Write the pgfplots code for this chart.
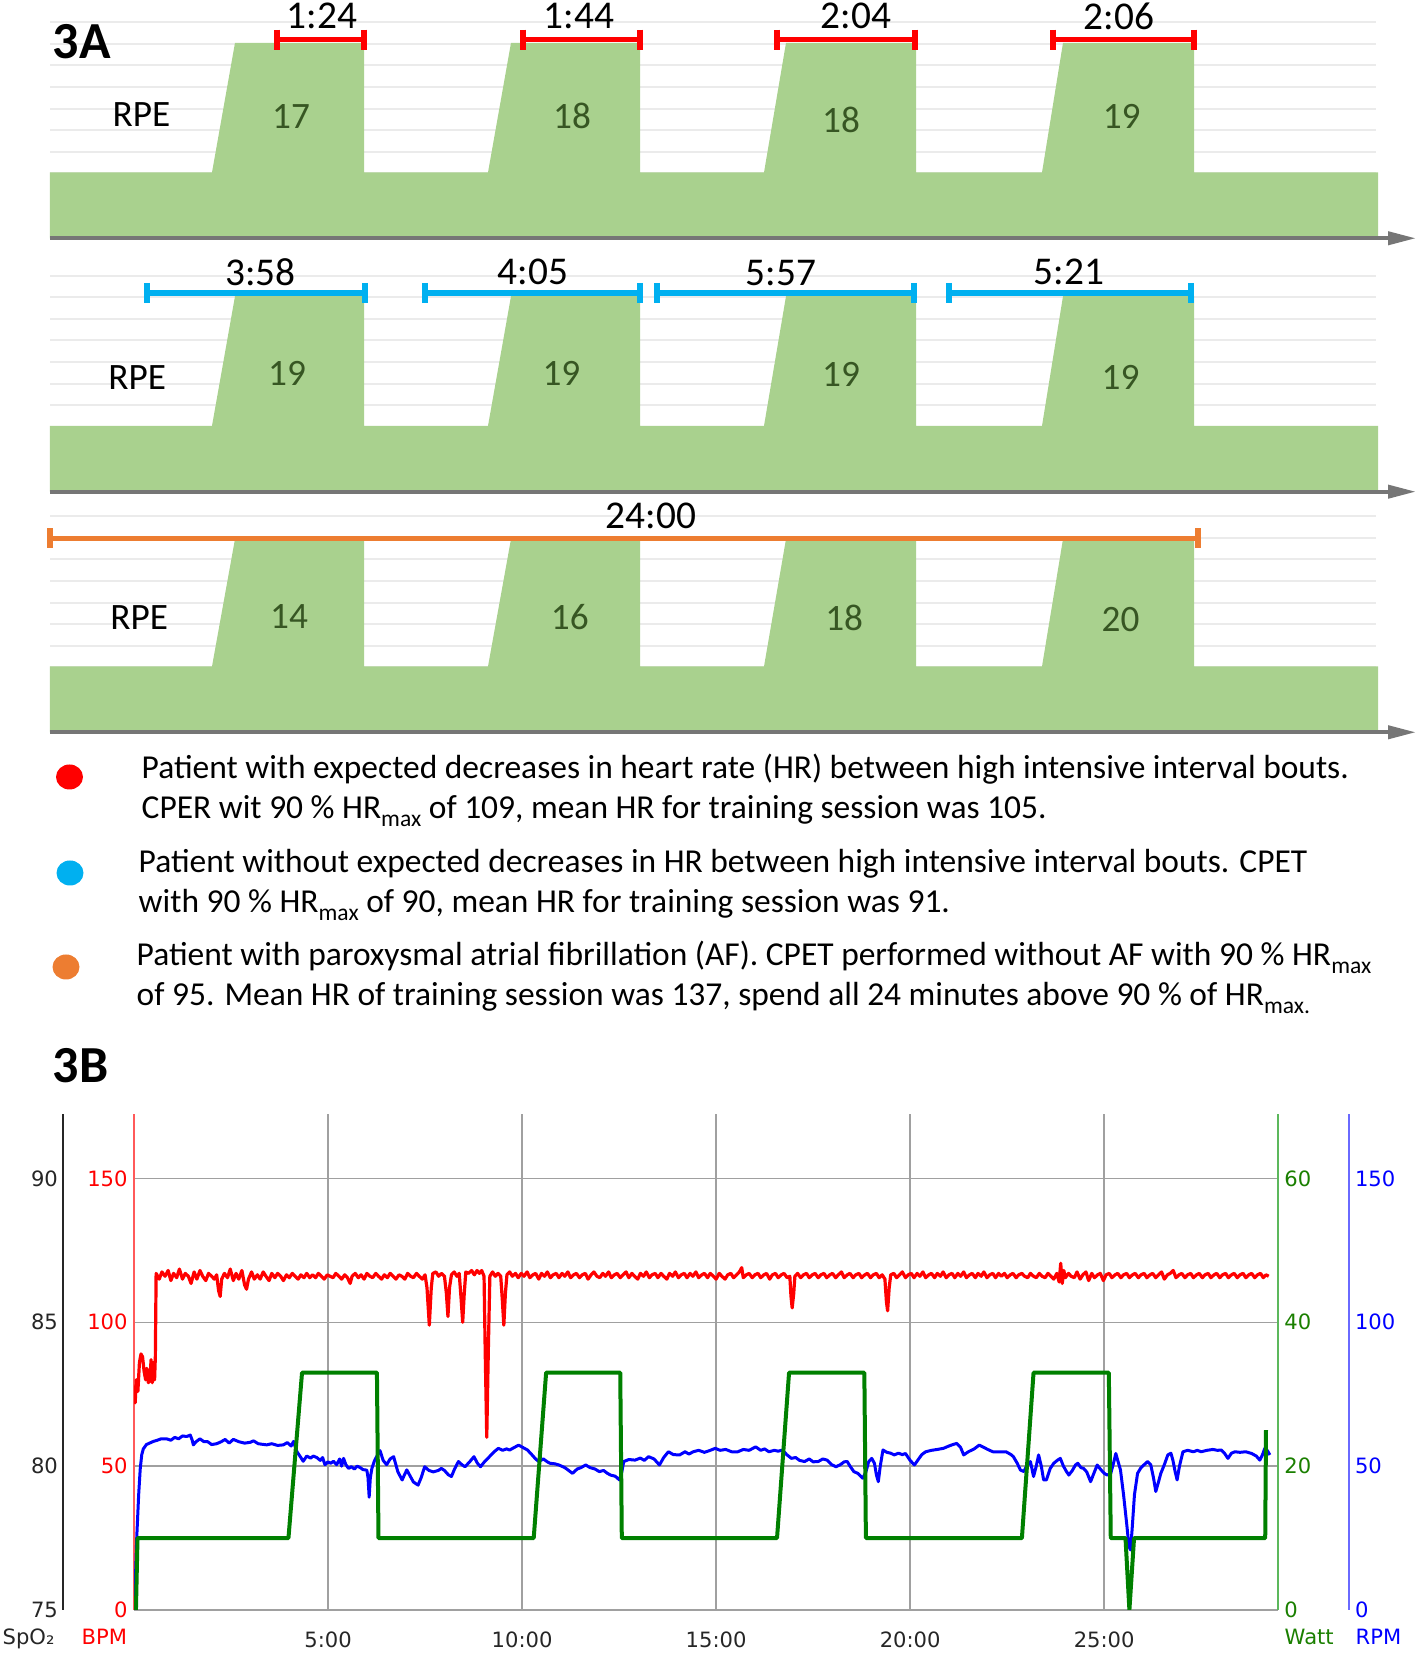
\documentclass[border=0pt]{standalone}
\usepackage{fontspec}
\setmainfont{Carlito}
\newfontfamily\vfont{DejaVu Sans}
\usepackage{pgfplots}
\pgfplotsset{compat=1.18}
\usetikzlibrary{arrows.meta}
\definecolor{rpegreen}{HTML}{A9D18E}
\definecolor{rpedark}{HTML}{375623}
\definecolor{barred}{HTML}{FF0000}
\definecolor{barblue}{HTML}{00B0F0}
\definecolor{barorange}{HTML}{ED7D31}
\definecolor{arrowgray}{HTML}{767676}
\definecolor{faintgrid}{HTML}{EBEBEB}
\definecolor{gridgray}{HTML}{A0A0A0}
\definecolor{bpmred}{HTML}{FF0000}
\definecolor{bpmaxis}{HTML}{FF5A5A}
\definecolor{wattgreen}{HTML}{008000}
\definecolor{wattaxis}{HTML}{5CB85C}
\definecolor{watttext}{HTML}{1A7F00}
\definecolor{rpmblue}{HTML}{0000FF}
\definecolor{rpmaxis}{HTML}{6A6AFF}
\newcommand{\lbl}{\fontsize{11.2}{13}\selectfont}
\newcommand{\rpe}{\fontsize{10.6}{12}\selectfont}
\newcommand{\leg}{\fontsize{9.52}{11}\selectfont}
\newcommand{\sub}[1]{\raisebox{-0.8mm}{\fontsize{6.7}{7}\selectfont #1}}
\newcommand{\tickf}{\fontsize{6}{7}\selectfont\vfont}
\pgfplotsset{
  rpepanel/.style={scale only axis, anchor=south west, width=132.6mm, height=21.6mm,
    xmin=50, xmax=1376, ymin=0, ymax=10, clip=false,
    axis line style={draw=none}, xtick=\empty, ytick={1,...,10}, yticklabels={},
    major tick length=0pt, ymajorgrids, major grid style={draw=faintgrid, line width=0.2mm}},
  durbar/.style={line width=0.55mm, mark=|, mark size=1mm, mark options={line width=0.6mm, solid}},
  base3b/.style={scale only axis, anchor=south west, width=114.4mm, height=49.6mm,
    xmin=0, xmax=29.48, major tick length=0pt},
}
\tikzset{axarrow/.style={line width=0.4mm, draw=arrowgray, -{Triangle[length=2.8mm,width=1.3mm]}},
  txt/.style={inner sep=0pt}}
\begin{document}
\begin{tikzpicture}
\useasboundingbox (0,0) rectangle (141.6mm,165.5mm);

% ---------------- 3A panel 1 ----------------
\begin{axis}[rpepanel, at={(5mm,141.67mm)}]
\addplot[fill=rpegreen, draw=none] coordinates {(50,3.05) (212,3.05) (235,9.05) (364,9.05) (364,3.05) (488,3.05) (511,9.05) (640,9.05) (640,3.05) (764,3.05) (786,9.05) (916,9.05) (916,3.05) (1042,3.05) (1063,9.05) (1194,9.05) (1194,3.05) (1378,3.05)} \closedcycle;
\addplot[durbar, color=barred] coordinates {(277,9.2) (364,9.2)};
\addplot[durbar, color=barred] coordinates {(523,9.2) (640,9.2)};
\addplot[durbar, color=barred] coordinates {(777,9.2) (915,9.2)};
\addplot[durbar, color=barred] coordinates {(1053,9.2) (1194,9.2)};
\draw[axarrow] (axis cs:50,0) -- (axis cs:1416,0);
\node[txt, font=\lbl] at (axis cs:322,10.28) {1:24};
\node[txt, font=\lbl] at (axis cs:579,10.28) {1:44};
\node[txt, font=\lbl] at (axis cs:856,10.28) {2:04};
\node[txt, font=\lbl] at (axis cs:1119,10.28) {2:06};
\node[txt, font=\rpe] at (axis cs:141.4,5.75) {RPE};
\node[txt, font=\rpe, text=rpedark] at (axis cs:291,5.65) {17};
\node[txt, font=\rpe, text=rpedark] at (axis cs:572,5.65) {18};
\node[txt, font=\rpe, text=rpedark] at (axis cs:841,5.46) {18};
\node[txt, font=\rpe, text=rpedark] at (axis cs:1121.7,5.65) {19};
\end{axis}

% ---------------- 3A panel 2 ----------------
\begin{axis}[rpepanel, at={(5mm,116.33mm)}]
\addplot[fill=rpegreen, draw=none] coordinates {(50,3.05) (212,3.05) (235,9.05) (364,9.05) (364,3.05) (488,3.05) (511,9.05) (640,9.05) (640,3.05) (764,3.05) (786,9.05) (916,9.05) (916,3.05) (1042,3.05) (1063,9.05) (1194,9.05) (1194,3.05) (1378,3.05)} \closedcycle;
\addplot[durbar, color=barblue] coordinates {(147,9.2) (365,9.2)};
\addplot[durbar, color=barblue] coordinates {(425,9.2) (640,9.2)};
\addplot[durbar, color=barblue] coordinates {(657,9.2) (914,9.2)};
\addplot[durbar, color=barblue] coordinates {(949,9.2) (1191,9.2)};
\draw[axarrow] (axis cs:50,0) -- (axis cs:1416,0);
\node[txt, font=\lbl] at (axis cs:260.6,10.16) {3:58};
\node[txt, font=\lbl] at (axis cs:533,10.16) {4:05};
\node[txt, font=\lbl] at (axis cs:781,10.12) {5:57};
\node[txt, font=\lbl] at (axis cs:1069,10.16) {5:21};
\node[txt, font=\rpe] at (axis cs:137.2,5.27) {RPE};
\node[txt, font=\rpe, text=rpedark] at (axis cs:287,5.47) {19};
\node[txt, font=\rpe, text=rpedark] at (axis cs:561.4,5.47) {19};
\node[txt, font=\rpe, text=rpedark] at (axis cs:841,5.42) {19};
\node[txt, font=\rpe, text=rpedark] at (axis cs:1120.6,5.27) {19};
\end{axis}

% ---------------- 3A panel 3 ----------------
\begin{axis}[rpepanel, at={(5mm,92.27mm)}]
\addplot[fill=rpegreen, draw=none] coordinates {(50,3.05) (212,3.05) (235,8.95) (364,8.95) (364,3.05) (488,3.05) (511,8.95) (640,8.95) (640,3.05) (764,3.05) (786,8.95) (916,8.95) (916,3.05) (1042,3.05) (1063,8.95) (1194,8.95) (1194,3.05) (1378,3.05)} \closedcycle;
\addplot[durbar, color=barorange] coordinates {(50,8.98) (1198,8.98)};
\draw[axarrow] (axis cs:50,0) -- (axis cs:1416,0);
\node[txt, font=\lbl] at (axis cs:651,10.01) {24:00};
\node[txt, font=\rpe] at (axis cs:139.3,5.32) {RPE};
\node[txt, font=\rpe, text=rpedark] at (axis cs:289.1,5.38) {14};
\node[txt, font=\rpe, text=rpedark] at (axis cs:569.8,5.32) {16};
\node[txt, font=\rpe, text=rpedark] at (axis cs:844.2,5.28) {18};
\node[txt, font=\rpe, text=rpedark] at (axis cs:1120.6,5.23) {20};
\end{axis}

% ---------------- labels and legend ----------------
\node[txt, anchor=base west, font=\fontsize{14.8}{16}\selectfont\bfseries] at (5.2mm,159.6mm) {3A};
\node[txt, anchor=base west, font=\fontsize{14.8}{16}\selectfont\bfseries] at (5.2mm,57.24mm) {3B};
\fill[barred] (6.95mm,87.8mm) ellipse [x radius=1.35mm, y radius=1.25mm];
\fill[barblue] (7mm,78.2mm) ellipse [x radius=1.35mm, y radius=1.25mm];
\fill[barorange] (6.6mm,68.8mm) ellipse [x radius=1.35mm, y radius=1.25mm];
\node[txt, anchor=base west, font=\leg] at (14.1mm,87.63mm) {Patient with expected decreases in heart rate (HR) between high intensive interval bouts.};
\node[txt, anchor=base west, font=\leg] at (14.1mm,83.65mm) {CPER wit 90 \% HR\sub{max} of 109, mean HR for training session was 105.};
\node[txt, anchor=base west, font=\leg] at (13.8mm,78.23mm) {Patient without expected decreases in HR between high intensive interval bouts. CPET};
\node[txt, anchor=base west, font=\leg] at (13.8mm,74.25mm) {with 90 \% HR\sub{max} of 90, mean HR for training session was 91.};
\node[txt, anchor=base west, font=\leg] at (13.6mm,68.95mm) {Patient with paroxysmal atrial fibrillation (AF). CPET performed without AF with 90 \% HR\sub{max}};
\node[txt, anchor=base west, font=\leg] at (13.6mm,64.95mm) {of 95. Mean HR of training session was 137, spend all 24 minutes above 90 \% of HR\sub{max.}};

% ---------------- 3B ----------------
% SpO2 axis
\begin{axis}[base3b, at={(6.33mm,4.5mm)}, ymin=75, ymax=92.24,
  axis y line*=left, axis x line=none, xtick=\empty,
  y axis line style={draw=black!85, line width=0.2mm, -},
  ytick={75,80,85,90}, yticklabels={75,80,85,90},
  yticklabel style={font=\tickf, text=black!85, xshift=0.7mm}]
\end{axis}
% RPM axis (same scale as BPM)
\begin{axis}[base3b, at={(20.46mm,4.5mm)}, ymin=0, ymax=172.4,
  axis y line*=right, axis x line=none, xtick=\empty,
  y axis line style={draw=rpmaxis, line width=0.2mm, -},
  ytick={0,50,100,150}, yticklabels={0,50,100,150},
  yticklabel style={font=\tickf, text=rpmblue, xshift=-0.6mm}]
\end{axis}
% main BPM axis with HR (red) and RPM (blue)
\begin{axis}[base3b, at={(13.4mm,4.5mm)}, ymin=0, ymax=172.4,
  axis y line*=left, axis x line*=bottom,
  x axis line style={draw=gridgray, line width=0.15mm, -},
  y axis line style={draw=bpmaxis, line width=0.2mm, -},
  ytick={0,50,100,150}, yticklabels={0,50,100,150},
  yticklabel style={font=\tickf, text=bpmred, xshift=0.6mm},
  xtick={5,10,15,20,25}, xticklabels={5:00,10:00,15:00,20:00,25:00},
  xticklabel style={font=\tickf, text=black!85, yshift=-0.9mm},
  xmajorgrids, ymajorgrids, major grid style={draw=gridgray, line width=0.15mm}]
\addplot[rpmblue, line width=0.3mm, line join=round] coordinates {
(0.00,0) (0.04,12) (0.07,25) (0.12,40) (0.16,49) (0.20,54) (0.24,56) (0.32,57.5) (0.40,58) (0.50,58.6) (0.60,59) (0.70,59.5) (0.84,59.5) (0.95,59) (1.05,60) (1.15,59.5) (1.25,60.5) (1.36,60.3) (1.45,60.8) (1.50,59) (1.53,57.4) (1.60,58.5) (1.70,59.5) (1.80,58.5) (1.90,58.5) (2.00,57.5) (2.13,57.8) (2.25,58.5) (2.35,59.3) (2.45,58) (2.56,59.3) (2.70,58.5) (2.85,58) (3.00,58.3) (3.08,58.8) (3.20,57.8) (3.30,57.6) (3.42,57.4) (3.55,57.8) (3.70,57.2) (3.85,57.4) (3.95,58.2) (4.05,57) (4.11,58.6) (4.20,55) (4.30,53) (4.36,51.7) (4.45,53.5) (4.55,52.8) (4.62,53.5) (4.71,53) (4.80,52) (4.86,53) (4.92,50.5) (5.00,51.5) (5.07,51) (5.14,51.7) (5.22,50.5) (5.30,52.5) (5.35,50) (5.40,52.7) (5.46,50.5) (5.53,49.2) (5.60,49.8) (5.68,49) (5.75,50) (5.83,49.5) (5.90,48.8) (6.00,48.6) (6.03,46) (6.06,39.2) (6.09,46) (6.13,49.2) (6.20,52) (6.28,54) (6.34,55.4) (6.42,52) (6.51,50.5) (6.60,52.5) (6.69,53.3) (6.80,48) (6.91,45.2) (6.97,47) (7.03,48.7) (7.11,46.7) (7.20,44.5) (7.32,43.4) (7.40,46) (7.49,49.8) (7.60,48.5) (7.71,48) (7.84,48.5) (7.92,49.2) (8.00,48.5) (8.10,47) (8.18,46.4) (8.26,49) (8.36,51.6) (8.45,50.5) (8.53,49.8) (8.65,51.5) (8.76,53.3) (8.85,51) (8.93,49.8) (9.03,51.5) (9.16,53.3) (9.28,55) (9.39,56.2) (9.50,55.5) (9.60,56) (9.68,55.6) (9.80,56.5) (9.91,57.3) (10.02,56.5) (10.14,55.6) (10.25,54) (10.35,52.5) (10.43,51.6) (10.55,52.5) (10.65,51.5) (10.72,51) (10.85,50.8) (10.95,50.4) (11.10,49.5) (11.20,48.5) (11.30,47.5) (11.42,49) (11.52,49.5) (11.64,50.4) (11.75,49.5) (11.88,49) (11.99,48.1) (12.10,48.5) (12.20,47.5) (12.28,46.9) (12.40,46.5) (12.51,45.2) (12.57,48) (12.62,51.6) (12.75,52.3) (12.91,52.1) (13.05,52.8) (13.15,52) (13.26,53.3) (13.40,52.5) (13.54,50.4) (13.65,53) (13.77,55) (13.90,54) (14.06,53.9) (14.20,55) (14.30,54.2) (14.41,55) (14.55,55.5) (14.70,54.8) (14.85,55.5) (14.98,56.2) (15.10,55.5) (15.25,55.8) (15.40,55) (15.56,55) (15.70,55.8) (15.85,55.5) (16.02,56.7) (16.15,55.5) (16.25,56) (16.36,55) (16.50,55.5) (16.60,55.2) (16.71,55.6) (16.82,54) (16.94,52.7) (17.05,53) (17.15,52) (17.28,51.6) (17.40,52.5) (17.50,51.5) (17.63,51.6) (17.75,52.5) (17.86,52.1) (17.98,50.5) (18.09,49.8) (18.20,50.5) (18.30,51.5) (18.38,51.6) (18.45,50) (18.55,48.1) (18.65,47.5) (18.78,45.8) (18.86,48) (18.93,51.5) (19.01,52.7) (19.08,51) (19.13,47) (19.18,44.6) (19.23,50) (19.30,55.6) (19.40,54.8) (19.50,54.5) (19.59,53.9) (19.70,54.5) (19.80,54) (19.88,54.4) (20.00,52) (20.11,50.4) (20.22,52.5) (20.30,54) (20.40,55) (20.55,55.5) (20.70,55.8) (20.86,56.2) (21.00,57) (21.10,57.5) (21.20,57.9) (21.30,56.5) (21.38,53.9) (21.50,55) (21.65,56) (21.78,57.3) (21.90,56.5) (22.00,55.8) (22.13,55) (22.30,55) (22.47,55) (22.60,54) (22.66,53.3) (22.76,51) (22.84,48.7) (22.93,48.1) (23.00,50) (23.10,51.6) (23.18,46.4) (23.25,50) (23.31,53.9) (23.38,50) (23.44,45.2) (23.51,45.2) (23.61,49.2) (23.70,51) (23.80,52.1) (23.87,52.7) (23.95,50) (24.03,48.1) (24.09,46.9) (24.18,48.5) (24.26,50.4) (24.32,51) (24.40,49.5) (24.47,49.2) (24.55,48) (24.65,44.6) (24.72,47) (24.82,50.4) (24.90,49) (25.00,47.5) (25.08,46.9) (25.17,47.5) (25.24,51) (25.30,54.4) (25.36,51.5) (25.42,48.7) (25.50,40) (25.58,30) (25.64,22) (25.68,20.9) (25.72,28) (25.78,40) (25.86,47.5) (25.95,49.5) (26.03,50.5) (26.12,51.6) (26.20,50.5) (26.27,46) (26.33,41.2) (26.40,44.5) (26.46,47.5) (26.55,50.5) (26.64,53.9) (26.72,54.5) (26.77,52.1) (26.83,48) (26.88,45.2) (26.94,50) (27.03,55) (27.15,55.5) (27.30,55) (27.40,55.5) (27.50,55) (27.65,55.5) (27.80,55.8) (27.92,55.5) (28.02,55.6) (28.10,54.5) (28.19,52.7) (28.28,54.5) (28.37,55) (28.50,54.8) (28.65,55) (28.80,54.4) (28.92,53.5) (29.01,52.1) (29.08,54) (29.14,56.2) (29.20,55.5) (29.27,53.9)};
\addplot[bpmred, line width=0.32mm, line join=round] coordinates {
(0.00,78) (0.03,72) (0.06,80) (0.10,76) (0.14,86) (0.18,89) (0.22,88) (0.26,83) (0.30,80) (0.33,84) (0.37,79) (0.41,80) (0.44,87) (0.47,79) (0.50,86) (0.53,80) (0.55,88) (0.57,117)
(0.65,115) (0.72,117.5) (0.80,116) (0.88,118) (0.95,114.5) (1.02,117) (1.10,115.5) (1.17,118.5) (1.25,115) (1.32,117) (1.40,116) (1.47,113.5) (1.55,117.5) (1.62,115) (1.70,118) (1.77,116) (1.85,114.5) (1.92,117) (2.00,116) (2.07,115) (2.13,116.5) (2.18,111) (2.22,109) (2.26,115) (2.33,117) (2.41,115.5) (2.48,118.5) (2.56,114.5) (2.63,117) (2.70,115) (2.78,118) (2.85,113) (2.90,111.5) (2.95,115) (3.03,117.5) (3.10,115) (3.18,116.5) (3.25,115) (3.33,117.5) (3.40,116) (3.48,114.5) (3.55,117) (3.63,115.5) (3.70,117) (3.78,116) (3.85,114.5) (3.93,116.5) (4.00,115.5) (4.08,117) (4.15,116) (4.23,115) (4.30,116.5) (4.38,115.5) (4.45,117) (4.53,115.5) (4.60,116.5) (4.68,115.5) (4.75,117) (4.83,116) (4.90,115) (4.98,116.5) (5.05,116) (5.13,115.5) (5.20,117) (5.28,116) (5.35,115) (5.43,116.5) (5.50,115.5) (5.57,113.5) (5.62,116) (5.70,117) (5.78,115.5) (5.85,116.5) (5.93,115) (6.00,117) (6.08,116) (6.15,115.5) (6.23,117) (6.30,116) (6.38,115) (6.45,116.5) (6.53,115.5) (6.60,117) (6.68,116) (6.75,115) (6.83,116.5) (6.90,116) (6.98,115) (7.05,117) (7.13,116) (7.20,115.5) (7.28,117) (7.35,116) (7.43,115) (7.50,116.5) (7.55,112) (7.61,99) (7.66,112) (7.70,117) (7.78,117.5) (7.85,116) (7.92,117) (8.00,116) (8.05,110) (8.09,102) (8.13,112) (8.18,116.5) (8.25,117.5) (8.32,116) (8.38,117) (8.43,108) (8.47,100) (8.51,110) (8.55,117.5) (8.62,117) (8.70,118) (8.77,116.5) (8.84,118) (8.90,117) (8.96,118) (9.02,116) (9.05,90) (9.09,60) (9.13,90) (9.17,116) (9.24,117.5) (9.31,116) (9.38,117) (9.45,116) (9.49,108) (9.53,99) (9.57,110) (9.61,116.5) (9.68,117.5) (9.75,116) (9.83,117) (9.90,115.5) (9.98,117) (10.05,116) (10.13,117.5) (10.20,115.5) (10.28,116.5) (10.35,117) (10.43,115) (10.50,117) (10.58,116) (10.65,117.5) (10.73,115.5) (10.80,116.5) (10.88,117) (10.95,115.5) (11.03,117) (11.10,116) (11.18,117.5) (11.25,115.5) (11.33,116.5) (11.40,117) (11.48,115.5) (11.55,116.5) (11.63,117) (11.70,115) (11.78,116.5) (11.85,117.5) (11.93,116) (12.00,115.5) (12.08,117) (12.15,116) (12.23,117.5) (12.30,115.5) (12.38,116.5) (12.45,117) (12.53,115.5) (12.60,116.5) (12.68,117.5) (12.75,115.5) (12.83,117) (12.90,116) (12.98,115) (13.05,117) (13.13,116) (13.20,117.5) (13.28,115.5) (13.35,116.5) (13.43,117) (13.50,115.5) (13.58,117) (13.65,116) (13.73,115) (13.80,117) (13.88,116) (13.95,117.5) (14.03,115.5) (14.10,116.5) (14.18,117) (14.25,115.5) (14.33,117) (14.40,116) (14.48,117.5) (14.55,115.5) (14.63,116.5) (14.70,117) (14.78,115.5) (14.85,117) (14.93,116) (15.00,115) (15.08,117) (15.15,116) (15.23,115) (15.30,116.5) (15.38,117) (15.45,115.5) (15.53,116.5) (15.60,117.5) (15.66,119) (15.70,115.5) (15.78,116.5) (15.85,117) (15.93,115.5) (16.00,116.5) (16.08,117) (16.15,115.5) (16.23,116.5) (16.30,117) (16.38,115) (16.45,116.5) (16.53,117) (16.60,115.5) (16.68,116.5) (16.75,117) (16.83,115.5) (16.90,116) (16.93,109) (16.96,105) (17.00,110) (17.03,116) (17.10,117) (17.18,115.5) (17.25,116.5) (17.33,117) (17.40,115.5) (17.48,116.5) (17.55,117) (17.63,115.5) (17.70,116.5) (17.78,117) (17.85,115.5) (17.93,116.5) (18.00,117) (18.08,115.5) (18.15,116.5) (18.23,117.5) (18.30,115.5) (18.38,116.5) (18.45,117) (18.53,115.5) (18.60,116.5) (18.68,117) (18.75,115.5) (18.83,116.5) (18.90,117) (18.98,115.5) (19.05,116.5) (19.13,117) (19.20,115.5) (19.28,116.5) (19.35,115) (19.39,107) (19.42,104) (19.46,112) (19.50,116.5) (19.58,117) (19.65,115.5) (19.73,116.5) (19.80,117.5) (19.88,115.5) (19.95,116.5) (20.03,117) (20.10,115.5) (20.18,117) (20.25,116) (20.33,117.5) (20.40,115.5) (20.48,116.5) (20.55,117) (20.63,115.5) (20.70,117) (20.78,116) (20.85,117.5) (20.93,115.5) (21.00,116.5) (21.08,117) (21.15,115.5) (21.23,117) (21.30,116) (21.38,117.5) (21.45,115.5) (21.53,116.5) (21.60,117) (21.68,115.5) (21.75,117) (21.83,116) (21.90,117.5) (21.98,115.5) (22.05,116.5) (22.13,117) (22.20,115.5) (22.28,117) (22.35,116) (22.43,117) (22.50,115.5) (22.58,116.5) (22.65,117) (22.73,115.5) (22.80,116.5) (22.88,117) (22.95,116) (23.03,115.5) (23.10,117) (23.18,116) (23.25,115.5) (23.33,117) (23.40,116) (23.48,115.5) (23.55,117) (23.63,116) (23.70,115) (23.78,117) (23.84,114) (23.88,120.5) (23.92,113.5) (23.96,118) (24.00,115.5) (24.08,117) (24.15,116) (24.23,115.5) (24.30,117.5) (24.38,115) (24.45,116.5) (24.53,117.5) (24.60,114.5) (24.68,117) (24.75,115.5) (24.83,116.5) (24.90,117) (24.98,114.5) (25.05,116.5) (25.13,117) (25.20,115.5) (25.28,116.5) (25.35,117) (25.43,115.5) (25.50,116.5) (25.58,117) (25.65,115.5) (25.73,116.5) (25.80,117) (25.88,115.5) (25.95,116.5) (26.03,117) (26.10,115.5) (26.18,116.5) (26.25,117) (26.33,115.5) (26.40,116.5) (26.48,117.5) (26.55,115) (26.63,116.5) (26.70,117) (26.78,118) (26.85,115.5) (26.93,116.5) (27.00,117) (27.08,115.5) (27.15,116.5) (27.23,117) (27.30,115.5) (27.38,116.5) (27.45,117) (27.53,115.5) (27.60,116.5) (27.68,117) (27.75,115.5) (27.83,116.5) (27.90,117) (27.98,115.5) (28.05,116.5) (28.13,117) (28.20,115.5) (28.28,116.5) (28.35,117) (28.43,115.5) (28.50,116.5) (28.58,117) (28.65,115.5) (28.73,116.5) (28.80,117) (28.88,115.5) (28.95,116.5) (29.03,117) (29.10,115.5) (29.17,116.5) (29.24,116)};
\end{axis}
% Watt axis with workload (green)
\begin{axis}[base3b, at={(13.4mm,4.5mm)}, ymin=0, ymax=68.96,
  axis y line*=right, axis x line=none, xtick=\empty,
  y axis line style={draw=wattaxis, line width=0.2mm, -},
  ytick={0,20,40,60}, yticklabels={0,20,40,60},
  yticklabel style={font=\tickf, text=watttext, xshift=-0.6mm}]
\addplot[wattgreen, line width=0.4mm, line join=round] coordinates {
(0.00,0) (0.05,0) (0.09,10) (3.98,10) (4.33,33) (6.26,33) (6.30,10) (10.30,10) (10.62,33) (12.53,33) (12.57,10) (16.57,10) (16.88,33) (18.82,33) (18.86,10) (22.88,10) (23.18,33) (25.12,33) (25.17,10) (25.55,10) (25.65,0) (25.77,10) (29.15,10) (29.17,25)};
\end{axis}
\node[txt, anchor=base, font=\tickf, text=black!85] at (2.86mm,1mm) {SpO₂};
\node[txt, anchor=base east, font=\tickf, text=bpmred] at (12.77mm,1mm) {BPM};
\node[txt, anchor=base west, font=\tickf, text=watttext] at (128.4mm,1mm) {Watt};
\node[txt, anchor=base west, font=\tickf, text=rpmblue] at (135.5mm,1mm) {RPM};
\end{tikzpicture}
\end{document}
